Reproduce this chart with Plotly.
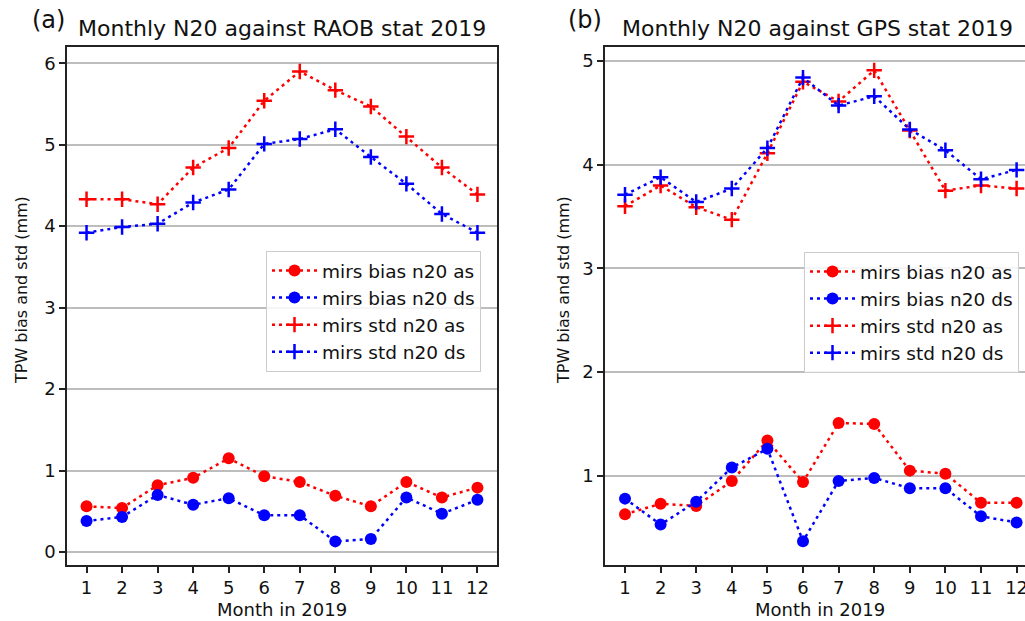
import plotly.graph_objects as go

months = list(range(1, 13))
tick_labels = [str(m) for m in months]

# Panel (a): against RAOB
raob_bias_as = [0.56, 0.54, 0.82, 0.91, 1.15, 0.93, 0.86, 0.69, 0.56, 0.86, 0.67, 0.79]
raob_bias_ds = [0.38, 0.43, 0.70, 0.58, 0.66, 0.45, 0.45, 0.13, 0.16, 0.67, 0.47, 0.64]
raob_std_as = [4.33, 4.33, 4.27, 4.72, 4.96, 5.54, 5.90, 5.67, 5.47, 5.10, 4.72, 4.39]
raob_std_ds = [3.92, 3.99, 4.03, 4.29, 4.45, 5.01, 5.07, 5.19, 4.85, 4.52, 4.15, 3.92]

# Panel (b): against GPS
gps_bias_as = [0.63, 0.73, 0.71, 0.95, 1.34, 0.94, 1.51, 1.50, 1.05, 1.02, 0.74, 0.74]
gps_bias_ds = [0.78, 0.53, 0.75, 1.08, 1.26, 0.37, 0.95, 0.98, 0.88, 0.88, 0.61, 0.55]
gps_std_as = [3.60, 3.80, 3.59, 3.47, 4.11, 4.80, 4.61, 4.91, 4.33, 3.75, 3.80, 3.77]
gps_std_ds = [3.71, 3.88, 3.64, 3.77, 4.16, 4.84, 4.57, 4.66, 4.34, 4.14, 3.86, 3.95]

names = ["mirs bias n20 as", "mirs bias n20 ds", "mirs std n20 as", "mirs std n20 ds"]
RED = "#ff0000"
BLUE = "#0000ff"
FONT = "DejaVu Sans"
DASH = "3px,4px"

W, H = 1025, 621

def px_x(p):
    return p / W

def px_y(p):
    return 1 - p / H

fig = go.Figure()

def add_panel(series, xa, ya, legend):
    colors = [RED, BLUE, RED, BLUE]
    for i, (vals, name) in enumerate(zip(series, names)):
        is_bias = i < 2
        marker = dict(
            symbol="circle" if is_bias else "cross-thin",
            size=12 if is_bias else 11,
            color=colors[i],
            line=dict(width=0 if is_bias else 2.5, color=colors[i]),
        )
        fig.add_trace(go.Scatter(
            x=months, y=vals, name=name, mode="lines+markers",
            line=dict(color=colors[i], width=2.5, dash=DASH),
            marker=marker, xaxis=xa, yaxis=ya, legend=legend,
        ))

add_panel([raob_bias_as, raob_bias_ds, raob_std_as, raob_std_ds], "x", "y", "legend")
add_panel([gps_bias_as, gps_bias_ds, gps_std_as, gps_std_ds], "x2", "y2", "legend2")

ydom = [px_y(565), px_y(47)]
tickfont = dict(family=FONT, size=18, color="#111111")

axis_common = dict(
    showline=True, linecolor="#222222", linewidth=1.5,
    ticks="outside", ticklen=6, tickwidth=1.5, tickcolor="#222222",
    tickfont=tickfont, zeroline=False, automargin=False,
    ticklabeloverflow="allow",
)

legend_common = dict(
    xanchor="left", yanchor="top",
    bgcolor="rgba(255,255,255,0.85)", bordercolor="#cccccc", borderwidth=1,
    font=dict(family=FONT, size=18.5, color="#111111"), itemwidth=45,
    tracegroupgap=0,
)

fig.update_layout(
    width=W, height=H,
    margin=dict(l=0, r=0, t=0, b=0),
    paper_bgcolor="white", plot_bgcolor="white",
    font=dict(family=FONT, color="#111111"),
    xaxis=dict(domain=[px_x(67), px_x(497)], range=[0.45, 12.55],
               tickvals=months, ticktext=tick_labels, showgrid=False,
               mirror=True, anchor="y", **axis_common),
    yaxis=dict(domain=ydom, range=[-0.16, 6.2], tick0=0, dtick=1,
               showgrid=True, gridcolor="#bdbdbd", gridwidth=1.5,
               mirror=True, anchor="x", **axis_common),
    xaxis2=dict(domain=[px_x(605), 1.0], range=[0.438, 12.236],
                tickvals=months, ticktext=tick_labels, showgrid=False,
                mirror=True, anchor="y2", **axis_common),
    yaxis2=dict(domain=ydom, range=[0.14, 5.135], tick0=0, dtick=1,
                showgrid=True, gridcolor="#bdbdbd", gridwidth=1.5,
                mirror=False, anchor="x2", **axis_common),
    legend=dict(x=px_x(266), y=px_y(251), **legend_common),
    legend2=dict(x=px_x(804), y=px_y(252), **legend_common),
    showlegend=True,
)

annots = [
    dict(text="(a)", x=px_x(48), y=px_y(20), font=dict(size=24)),
    dict(text="Monthly N20 against RAOB stat 2019", x=px_x(282), y=px_y(29), font=dict(size=22)),
    dict(text="(b)", x=px_x(585), y=px_y(20), font=dict(size=24)),
    dict(text="Monthly N20 against GPS stat 2019", x=px_x(817), y=px_y(29), font=dict(size=22)),
    dict(text="Month in 2019", x=px_x(282), y=px_y(609), font=dict(size=18)),
    dict(text="Month in 2019", x=px_x(820), y=px_y(609), font=dict(size=18)),
    dict(text="TPW bias and std (mm)", x=px_x(21), y=px_y(290), font=dict(size=16), textangle=-90),
    dict(text="TPW bias and std (mm)", x=px_x(563), y=px_y(290), font=dict(size=16), textangle=-90),
]
for a in annots:
    f = dict(family=FONT, color="#111111")
    f.update(a.pop("font"))
    fig.add_annotation(xref="paper", yref="paper", showarrow=False,
                       xanchor="center", yanchor="middle", font=f, **a)

fig.write_html("out.html")
